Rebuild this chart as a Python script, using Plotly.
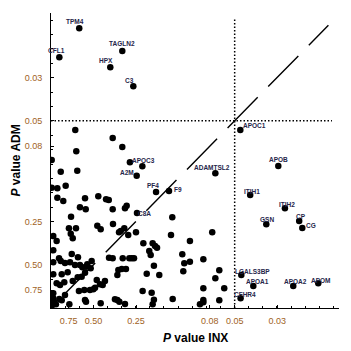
import plotly.graph_objects as go
import numpy as np

# -log10(P) values, INX (x) and ADM (y)
lab_genes = ["TPM4", "TAGLN2", "CFL1", "HPX", "C3", "APOC1", "APOC3", "A2M", "APOB",
             "ADAMTSL2", "PF4", "F9", "C8A", "ITIH1", "ITIH2", "GSN", "CP", "CG",
             "LGALS3BP", "APOA1", "APOA2", "APOM", "CFHR4"]
lab_inx = [0.200, 0.505, 0.059, 0.420, 0.583, 1.341, 0.559, 0.607, 1.610,
           1.164, 0.744, 0.836, 0.609, 1.411, 1.657, 1.525, 1.758, 1.780,
           1.348, 1.433, 1.716, 1.893, 1.343]
lab_adm = [1.944, 1.786, 1.742, 1.673, 1.541, 1.237, 1.013, 0.919, 0.987,
           0.936, 0.806, 0.813, 0.660, 0.785, 0.693, 0.582, 0.605, 0.556,
           0.229, 0.153, 0.153, 0.172, 0.067]

other_inx = [0.172, 0.437, 0.505, 0.179, 0.005, 0.647, 0.069, 0.186,
             0.005, 0.045, 0.104, 0.045, 0.087, 0.241, 0.335, 0.390, 0.409, 0.205,
             0.246, 0.437, 0.524, 0.536, 0.859, 0.142, 0.016, 0.127, 0.177, 0.140,
             0.154, 0.040, 0.328, 0.352, 0.439, 0.494, 0.519, 0.482, 0.547, 0.602,
             0.654, 0.720, 0.737, 0.751, 0.850, 0.016, 0.057, 0.069, 0.147, 0.191,
             0.411, 0.437, 0.508, 0.555, 0.572, 0.588, 0.696, 0.706, 0.016, 0.099,
             0.135, 0.170, 0.205, 0.222, 0.248, 0.257, 0.288, 0.281, 0.241, 0.076,
             0.118, 0.016, 0.477, 0.501, 0.531, 0.470, 0.729, 0.678, 0.767, 0.040,
             0.064, 0.094, 0.154, 0.189, 0.217, 0.324, 0.347, 0.366, 0.382, 0.312,
             0.300, 0.276, 0.198, 0.236, 0.099, 0.016, 0.016, 0.021, 0.059, 0.076,
             0.130, 0.241, 0.248, 0.352, 0.453, 0.470, 0.484, 0.524, 0.649, 0.713,
             0.729, 0.720, 0.862, 0.035, 0.005,
             1.142, 0.984, 0.930, 0.944, 0.984, 1.079, 0.937, 1.192, 1.164, 1.079,
             1.227, 1.079, 1.079, 1.055, 1.192]
other_adm = [1.237, 1.181, 1.119, 1.089, 1.028, 0.985, 0.947, 0.954,
             0.836, 0.832, 0.850, 0.767, 0.744, 0.762, 0.776, 0.755, 0.751, 0.700,
             0.686, 0.686, 0.693, 0.711, 0.630, 0.634, 0.500, 0.554, 0.554, 0.516,
             0.484, 0.466, 0.572, 0.547, 0.584, 0.535, 0.554, 0.526, 0.507, 0.526,
             0.450, 0.450, 0.431, 0.419, 0.507, 0.401, 0.345, 0.327, 0.375, 0.352,
             0.350, 0.345, 0.345, 0.345, 0.345, 0.345, 0.396, 0.368, 0.318, 0.313,
             0.318, 0.299, 0.299, 0.283, 0.287, 0.304, 0.327, 0.276, 0.245, 0.234,
             0.248, 0.234, 0.264, 0.271, 0.271, 0.229, 0.294, 0.238, 0.229, 0.172,
             0.160, 0.179, 0.188, 0.213, 0.218, 0.195, 0.165, 0.160, 0.188, 0.141,
             0.130, 0.125, 0.118, 0.125, 0.090, 0.102, 0.067, 0.044, 0.063, 0.054,
             0.026, 0.056, 0.044, 0.033, 0.060, 0.056, 0.044, 0.028, 0.118, 0.106,
             0.058, 0.026, 0.063, 0.026, 0.014,
             0.526, 0.466, 0.373, 0.311, 0.322, 0.338, 0.255, 0.262, 0.206, 0.137,
             0.137, 0.056, 0.040, 0.026, 0.054]

tick_p = [0.75, 0.5, 0.25, 0.075, 0.05, 0.025]
tick_text = ["0.75", "0.50", "0.25", "0.08", "0.05", "0.03"]
threshold_p = 0.05
diag = [0.10, 1.965]
vline_y = [0.0, 2.01]
hline_x = [0.0, 1.99]

# label offsets in pixels (style)
lab_dx = [-4, 0, -3, -4, -4, 14, 14, -10, 0, -3, -3, 9, 8, 2, 2, 1, 2, 9, 11, 4, 2, 3, 4]
lab_dy = [6, 6, 6, 6, 5, 3, 1, 2, 5, 5, 6, 1, -1, 3, 3, 4, 3, 1, 3, 3, 3, 2, 3]

tickvals = [-np.log10(p) for p in tick_p]
thr = -np.log10(threshold_p)

fig = go.Figure()
fig.add_trace(go.Scatter(x=diag, y=diag, mode="lines",
                         line=dict(color="black", width=1.4, dash="43px,15px"),
                         hoverinfo="skip"))
fig.add_trace(go.Scatter(x=[thr, thr], y=vline_y, mode="lines",
                         line=dict(color="black", width=1.5, dash="1.5px,2px")))
fig.add_trace(go.Scatter(x=hline_x, y=[thr, thr], mode="lines",
                         line=dict(color="black", width=1.5, dash="1.5px,2px")))
fig.add_trace(go.Scatter(x=other_inx, y=other_adm, mode="markers",
                         marker=dict(color="black", size=6.5)))
fig.add_trace(go.Scatter(x=lab_inx, y=lab_adm, mode="markers",
                         marker=dict(color="black", size=6.5)))

for g, x, y, dx, dy in zip(lab_genes, lab_inx, lab_adm, lab_dx, lab_dy):
    fig.add_annotation(x=x, y=y, text="<b>" + g + "</b>", showarrow=False,
                       xshift=dx, yshift=dy + 1, xanchor="center", yanchor="middle",
                       font=dict(family="Liberation Sans", size=6.5, color="#25254a"))

fig.add_annotation(xref="paper", yref="paper", x=0.5, y=0, yshift=-30,
                   xanchor="center", yanchor="middle",
                   text="<b><i>P</i> value INX</b>", showarrow=False,
                   font=dict(family="Liberation Sans", size=12, color="black"))
fig.add_annotation(xref="paper", yref="paper", x=0, y=0.5, xshift=-36,
                   xanchor="center", yanchor="middle", textangle=-90,
                   text="<b><i>P</i> value ADM</b>", showarrow=False,
                   font=dict(family="Liberation Sans", size=12, color="black"))

axis_common = dict(showgrid=False, zeroline=False, showline=True, linecolor="black",
                   linewidth=1, ticks="inside", ticklen=3, tickcolor="black",
                   tickvals=tickvals, ticktext=tick_text,
                   tickfont=dict(family="Liberation Sans", size=9, color="#a0621e"),
                   minor=dict(ticks="inside", ticklen=2, dtick=0.1, tick0=0,
                              tickcolor="black"),
                   fixedrange=True)

fig.update_layout(
    width=351, height=351, showlegend=False,
    margin=dict(l=51, r=12, t=13, b=43),
    paper_bgcolor="white", plot_bgcolor="white",
    xaxis=dict(range=[0, 2.04], ticklabelstandoff=4, **axis_common),
    yaxis=dict(range=[0, 2.05], ticklabelstandoff=6, **axis_common),
)
fig.write_html("out.html")
